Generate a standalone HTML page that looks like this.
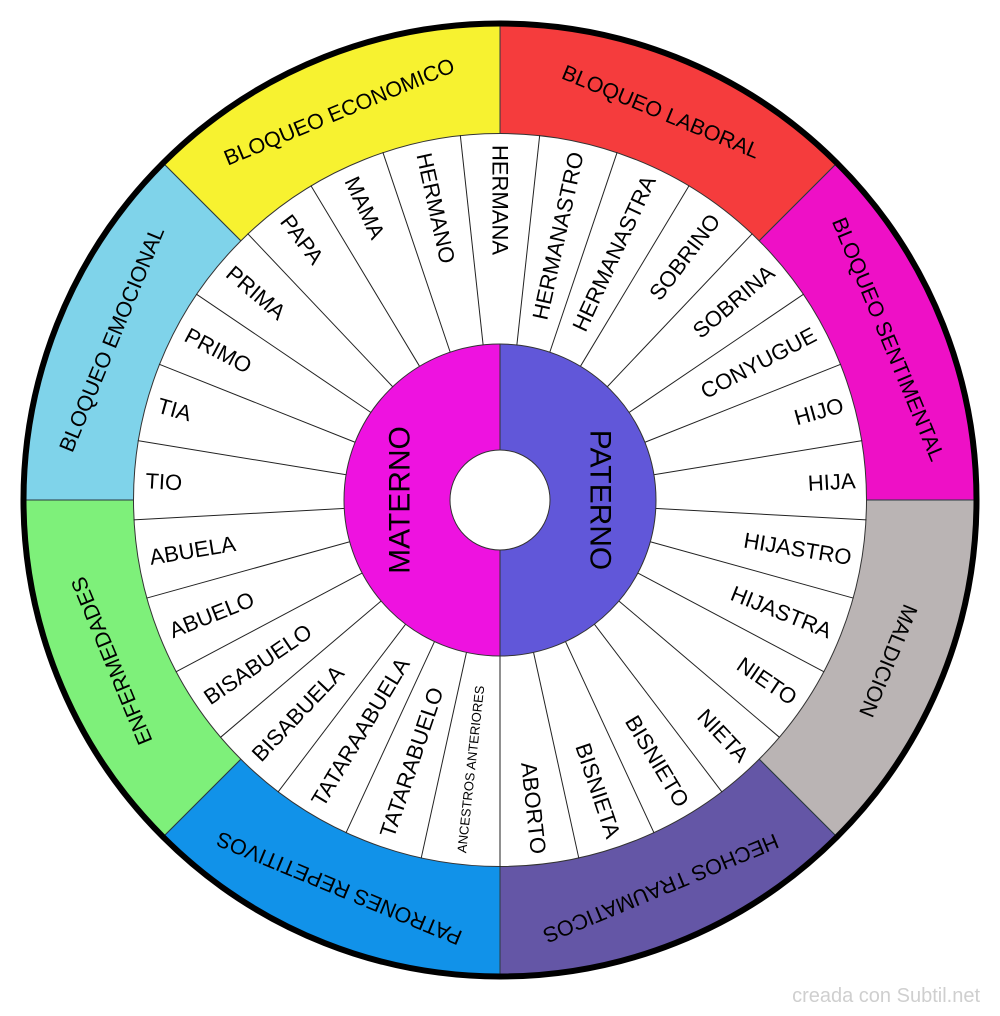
<!DOCTYPE html>
<html><head><meta charset="utf-8"><style>
html,body{margin:0;padding:0;background:#fff;}
svg{display:block;}
text{font-family:"Liberation Sans",Arial,sans-serif;fill:#000;}
</style></head><body>
<svg width="1000" height="1016" viewBox="0 0 1000 1016" xmlns="http://www.w3.org/2000/svg">
<g stroke="#2a3a40" stroke-width="1">
<path d="M500 500 L164.12 164.12 A475 475 0 0 1 500 25 Z" fill="#f7f230"/>
<path d="M500 500 L500 25 A475 475 0 0 1 835.88 164.12 Z" fill="#f53c3d"/>
<path d="M500 500 L835.88 164.12 A475 475 0 0 1 975 500 Z" fill="#ee10c6"/>
<path d="M500 500 L975 500 A475 475 0 0 1 835.88 835.88 Z" fill="#bab4b4"/>
<path d="M500 500 L835.88 835.88 A475 475 0 0 1 500 975 Z" fill="#6456a6"/>
<path d="M500 500 L500 975 A475 475 0 0 1 164.12 835.88 Z" fill="#1192e9"/>
<path d="M500 500 L164.12 835.88 A475 475 0 0 1 25 500 Z" fill="#7ef07a"/>
<path d="M500 500 L25 500 A475 475 0 0 1 164.12 164.12 Z" fill="#7fd3ea"/>
</g>
<circle cx="500" cy="500" r="476.5" fill="none" stroke="#000" stroke-width="6"/>
<circle cx="500" cy="500" r="366.5" fill="#fff" stroke="#333" stroke-width="1"/>
<g stroke="#222" stroke-width="1">
<line x1="655" y1="500" x2="867" y2="500" transform="rotate(-83.79 500 500)"/>
<line x1="655" y1="500" x2="867" y2="500" transform="rotate(-71.38 500 500)"/>
<line x1="655" y1="500" x2="867" y2="500" transform="rotate(-58.97 500 500)"/>
<line x1="655" y1="500" x2="867" y2="500" transform="rotate(-46.55 500 500)"/>
<line x1="655" y1="500" x2="867" y2="500" transform="rotate(-34.14 500 500)"/>
<line x1="655" y1="500" x2="867" y2="500" transform="rotate(-21.72 500 500)"/>
<line x1="655" y1="500" x2="867" y2="500" transform="rotate(-9.31 500 500)"/>
<line x1="655" y1="500" x2="867" y2="500" transform="rotate(3.10 500 500)"/>
<line x1="655" y1="500" x2="867" y2="500" transform="rotate(15.52 500 500)"/>
<line x1="655" y1="500" x2="867" y2="500" transform="rotate(27.93 500 500)"/>
<line x1="655" y1="500" x2="867" y2="500" transform="rotate(40.34 500 500)"/>
<line x1="655" y1="500" x2="867" y2="500" transform="rotate(52.76 500 500)"/>
<line x1="655" y1="500" x2="867" y2="500" transform="rotate(65.17 500 500)"/>
<line x1="655" y1="500" x2="867" y2="500" transform="rotate(77.59 500 500)"/>
<line x1="655" y1="500" x2="867" y2="500" transform="rotate(90 500 500)"/>
<line x1="655" y1="500" x2="867" y2="500" transform="rotate(102.41 500 500)"/>
<line x1="655" y1="500" x2="867" y2="500" transform="rotate(114.83 500 500)"/>
<line x1="655" y1="500" x2="867" y2="500" transform="rotate(127.24 500 500)"/>
<line x1="655" y1="500" x2="867" y2="500" transform="rotate(139.66 500 500)"/>
<line x1="655" y1="500" x2="867" y2="500" transform="rotate(152.07 500 500)"/>
<line x1="655" y1="500" x2="867" y2="500" transform="rotate(164.48 500 500)"/>
<line x1="655" y1="500" x2="867" y2="500" transform="rotate(176.90 500 500)"/>
<line x1="655" y1="500" x2="867" y2="500" transform="rotate(189.31 500 500)"/>
<line x1="655" y1="500" x2="867" y2="500" transform="rotate(201.72 500 500)"/>
<line x1="655" y1="500" x2="867" y2="500" transform="rotate(214.14 500 500)"/>
<line x1="655" y1="500" x2="867" y2="500" transform="rotate(226.55 500 500)"/>
<line x1="655" y1="500" x2="867" y2="500" transform="rotate(238.97 500 500)"/>
<line x1="655" y1="500" x2="867" y2="500" transform="rotate(251.38 500 500)"/>
<line x1="655" y1="500" x2="867" y2="500" transform="rotate(263.79 500 500)"/>
</g>
<path d="M500 344 A156 156 0 0 0 500 656 Z" fill="#ee12e0"/>
<path d="M500 344 A156 156 0 0 1 500 656 Z" fill="#6157d9"/>
<circle cx="500" cy="500" r="156" fill="none" stroke="#333" stroke-width="1"/>
<line x1="500" y1="344" x2="500" y2="656" stroke="#333" stroke-width="1"/>
<circle cx="500" cy="500" r="50" fill="#fff" stroke="#333" stroke-width="1"/>
<text x="400" y="500" font-size="30" text-anchor="middle" dominant-baseline="central" transform="rotate(-90 400 500)">MATERNO</text>
<text x="600" y="500" font-size="30" text-anchor="middle" dominant-baseline="central" transform="rotate(90 600 500)">PATERNO</text>
<g font-size="22" dominant-baseline="central">
<text x="145" y="500" transform="rotate(90 500 500)">HERMANA</text>
<text x="856" y="500" text-anchor="end" transform="rotate(-77.59 500 500)">HERMANASTRO</text>
<text x="856" y="500" text-anchor="end" transform="rotate(-65.17 500 500)">HERMANASTRA</text>
<text x="856" y="500" text-anchor="end" transform="rotate(-52.76 500 500)">SOBRINO</text>
<text x="856" y="500" text-anchor="end" transform="rotate(-40.34 500 500)">SOBRINA</text>
<text x="856" y="500" text-anchor="end" transform="rotate(-27.93 500 500)">CONYUGUE</text>
<text x="856" y="500" text-anchor="end" transform="rotate(-15.52 500 500)">HIJO</text>
<text x="856" y="500" text-anchor="end" transform="rotate(-3.10 500 500)">HIJA</text>
<text x="856" y="500" text-anchor="end" transform="rotate(9.31 500 500)">HIJASTRO</text>
<text x="856" y="500" text-anchor="end" transform="rotate(21.72 500 500)">HIJASTRA</text>
<text x="856" y="500" text-anchor="end" transform="rotate(34.14 500 500)">NIETO</text>
<text x="856" y="500" text-anchor="end" transform="rotate(46.55 500 500)">NIETA</text>
<text x="856" y="500" text-anchor="end" transform="rotate(58.97 500 500)">BISNIETO</text>
<text x="856" y="500" text-anchor="end" transform="rotate(71.38 500 500)">BISNIETA</text>
<text x="856" y="500" text-anchor="end" transform="rotate(83.79 500 500)">ABORTO</text>
<text x="145" y="500" font-size="13" transform="rotate(276.21 500 500)">ANCESTROS ANTERIORES</text>
<text x="145" y="500" transform="rotate(288.62 500 500)">TATARABUELO</text>
<text x="145" y="500" transform="rotate(301.03 500 500)">TATARAABUELA</text>
<text x="145" y="500" transform="rotate(313.45 500 500)">BISABUELA</text>
<text x="145" y="500" transform="rotate(325.86 500 500)">BISABUELO</text>
<text x="145" y="500" transform="rotate(338.28 500 500)">ABUELO</text>
<text x="145" y="500" transform="rotate(350.69 500 500)">ABUELA</text>
<text x="145" y="500" transform="rotate(3.10 500 500)">TIO</text>
<text x="145" y="500" transform="rotate(15.52 500 500)">TIA</text>
<text x="145" y="500" transform="rotate(27.93 500 500)">PRIMO</text>
<text x="145" y="500" transform="rotate(40.34 500 500)">PRIMA</text>
<text x="145" y="500" transform="rotate(52.76 500 500)">PAPA</text>
<text x="145" y="500" transform="rotate(65.17 500 500)">MAMA</text>
<text x="145" y="500" transform="rotate(77.59 500 500)">HERMANO</text>
</g>
<g font-size="21.5" text-anchor="middle" dominant-baseline="central">
<text x="500" y="80" transform="rotate(-22.5 500 500)">BLOQUEO ECONOMICO</text>
<text x="500" y="80" transform="rotate(22.5 500 500)">BLOQUEO LABORAL</text>
<text x="500" y="80" transform="rotate(67.5 500 500)">BLOQUEO SENTIMENTAL</text>
<text x="500" y="80" transform="rotate(112.5 500 500)">MALDICION</text>
<text x="500" y="80" transform="rotate(157.5 500 500)">HECHOS TRAUMATICOS</text>
<text x="500" y="80" transform="rotate(202.5 500 500)">PATRONES REPETITIVOS</text>
<text x="500" y="80" transform="rotate(247.5 500 500)">ENFERMEDADES</text>
<text x="500" y="80" transform="rotate(292.5 500 500)">BLOQUEO EMOCIONAL</text>
</g>
<text x="980" y="1002" font-size="20" text-anchor="end" style="fill:#cfcfcf">creada con Subtil.net</text>
</svg>
</body></html>
